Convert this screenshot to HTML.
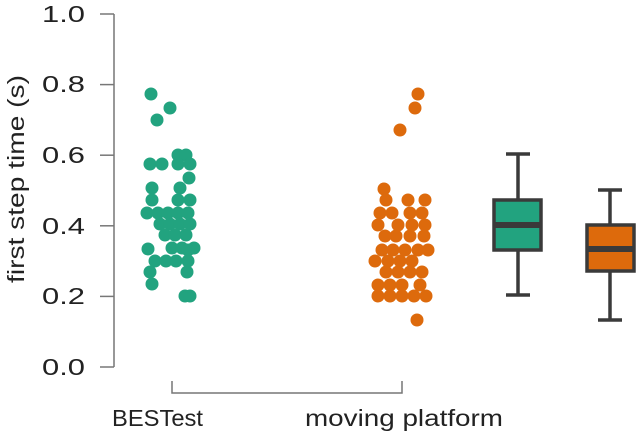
<!DOCTYPE html>
<html><head><style>body{margin:0;background:#fff}svg{display:block}</style></head><body>
<svg width="637" height="444" xmlns="http://www.w3.org/2000/svg" font-family="Liberation Sans, sans-serif">
<g stroke="#777" stroke-width="1.5" fill="none">
<line x1="114" y1="14" x2="114" y2="367"/>
<line x1="100" y1="14" x2="114" y2="14"/><line x1="100" y1="84.6" x2="114" y2="84.6"/>
<line x1="100" y1="155.2" x2="114" y2="155.2"/><line x1="100" y1="225.8" x2="114" y2="225.8"/>
<line x1="100" y1="296.4" x2="114" y2="296.4"/><line x1="100" y1="367" x2="114" y2="367"/>
<polyline points="172,381 172,393 402,393 402,381"/>
</g>
<g font-size="23" fill="#222">
<text x="42" y="22" textLength="43" lengthAdjust="spacingAndGlyphs">1.0</text>
<text x="42" y="92" textLength="43" lengthAdjust="spacingAndGlyphs">0.8</text>
<text x="42" y="163" textLength="43" lengthAdjust="spacingAndGlyphs">0.6</text>
<text x="42" y="234" textLength="43" lengthAdjust="spacingAndGlyphs">0.4</text>
<text x="42" y="304" textLength="43" lengthAdjust="spacingAndGlyphs">0.2</text>
<text x="42" y="375" textLength="43" lengthAdjust="spacingAndGlyphs">0.0</text>
</g>
<text transform="translate(24,283) rotate(-90)" font-size="23" fill="#222" textLength="208" lengthAdjust="spacingAndGlyphs">first step time (s)</text>
<text x="112" y="426" font-size="23" fill="#222" textLength="91" lengthAdjust="spacingAndGlyphs">BESTest</text>
<text x="305" y="426" font-size="23" fill="#222" textLength="198" lengthAdjust="spacingAndGlyphs">moving platform</text>
<g fill="#22a37f">
<circle cx="151" cy="94" r="6.5"/><circle cx="170" cy="108" r="6.5"/><circle cx="157" cy="120" r="6.5"/>
<circle cx="178" cy="155" r="6.5"/><circle cx="186" cy="155" r="6.5"/><circle cx="150" cy="164" r="6.5"/><circle cx="162" cy="164" r="6.5"/><circle cx="178" cy="164" r="6.5"/><circle cx="190" cy="164" r="6.5"/>
<circle cx="189" cy="178" r="6.5"/><circle cx="152" cy="188" r="6.5"/><circle cx="180" cy="188" r="6.5"/>
<circle cx="152" cy="200" r="6.5"/><circle cx="178" cy="200" r="6.5"/><circle cx="190" cy="200" r="6.5"/>
<circle cx="147" cy="213" r="6.5"/><circle cx="158" cy="213" r="6.5"/><circle cx="168" cy="213" r="6.5"/><circle cx="178" cy="213" r="6.5"/><circle cx="188" cy="213" r="6.5"/>
<circle cx="160" cy="224" r="6.5"/><circle cx="170" cy="224" r="6.5"/><circle cx="180" cy="224" r="6.5"/><circle cx="190" cy="224" r="6.5"/>
<circle cx="165" cy="235" r="6.5"/><circle cx="175" cy="235" r="6.5"/><circle cx="186" cy="235" r="6.5"/>
<circle cx="148" cy="249" r="6.5"/><circle cx="172" cy="248" r="6.5"/><circle cx="182" cy="248" r="6.5"/><circle cx="194" cy="248" r="6.5"/><circle cx="188" cy="250" r="6.5"/>
<circle cx="155" cy="261" r="6.5"/><circle cx="166" cy="261" r="6.5"/><circle cx="176" cy="261" r="6.5"/><circle cx="188" cy="261" r="6.5"/>
<circle cx="150" cy="272" r="6.5"/><circle cx="187" cy="272" r="6.5"/><circle cx="152" cy="284" r="6.5"/>
<circle cx="185" cy="296" r="6.5"/><circle cx="190" cy="296" r="6.5"/>
</g>
<g fill="#dd6a0c">
<circle cx="418" cy="94" r="6.5"/><circle cx="415" cy="108" r="6.5"/><circle cx="400" cy="130" r="6.5"/>
<circle cx="384" cy="189" r="6.5"/><circle cx="386" cy="200" r="6.5"/><circle cx="408" cy="200" r="6.5"/><circle cx="425" cy="200" r="6.5"/>
<circle cx="380" cy="213" r="6.5"/><circle cx="392" cy="213" r="6.5"/><circle cx="410" cy="213" r="6.5"/><circle cx="422" cy="213" r="6.5"/>
<circle cx="378" cy="225" r="6.5"/><circle cx="398" cy="225" r="6.5"/><circle cx="412" cy="225" r="6.5"/><circle cx="425" cy="225" r="6.5"/>
<circle cx="385" cy="236" r="6.5"/><circle cx="396" cy="236" r="6.5"/><circle cx="410" cy="236" r="6.5"/><circle cx="424" cy="236" r="6.5"/>
<circle cx="382" cy="250" r="6.5"/><circle cx="393" cy="250" r="6.5"/><circle cx="405" cy="250" r="6.5"/><circle cx="418" cy="250" r="6.5"/><circle cx="428" cy="250" r="6.5"/>
<circle cx="375" cy="261" r="6.5"/><circle cx="388" cy="261" r="6.5"/><circle cx="400" cy="261" r="6.5"/><circle cx="412" cy="261" r="6.5"/>
<circle cx="386" cy="272" r="6.5"/><circle cx="398" cy="272" r="6.5"/><circle cx="410" cy="272" r="6.5"/><circle cx="422" cy="272" r="6.5"/>
<circle cx="378" cy="285" r="6.5"/><circle cx="390" cy="285" r="6.5"/><circle cx="402" cy="285" r="6.5"/><circle cx="420" cy="285" r="6.5"/>
<circle cx="378" cy="296" r="6.5"/><circle cx="390" cy="296" r="6.5"/><circle cx="402" cy="296" r="6.5"/><circle cx="414" cy="296" r="6.5"/><circle cx="426" cy="296" r="6.5"/>
<circle cx="417" cy="320" r="6.5"/>
</g>
<g stroke="#3a3a3a" stroke-width="3.5">
<line x1="518" y1="154" x2="518" y2="199"/><line x1="518" y1="251" x2="518" y2="295"/>
<line x1="506" y1="154" x2="530" y2="154"/><line x1="506" y1="295" x2="530" y2="295"/>
<rect x="494" y="200" width="47" height="50" fill="#22a37f"/>
<line x1="494" y1="225" x2="541" y2="225" stroke-width="6"/>
<line x1="610" y1="190" x2="610" y2="224"/><line x1="610" y1="272" x2="610" y2="320"/>
<line x1="598" y1="190" x2="622" y2="190"/><line x1="598" y1="320" x2="622" y2="320"/>
<rect x="587" y="225" width="47" height="46" fill="#dd6a0c"/>
<line x1="587" y1="249" x2="634" y2="249" stroke-width="6"/>
</g>
</svg>
</body></html>
